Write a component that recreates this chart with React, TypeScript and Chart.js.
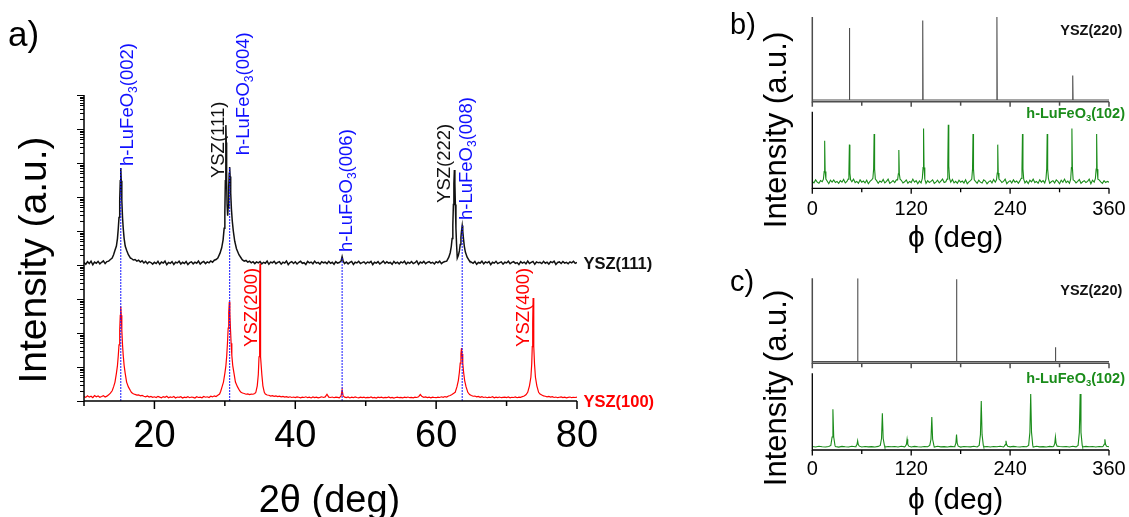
import React, { useEffect, useRef } from "react";
import { Chart, registerables } from "chart.js";

Chart.register(...registerables);

const FONT_FAMILY = "'Liberation Sans', Arial, 'DejaVu Sans', sans-serif";
const N = null;

// ---------------- Panel a : 2theta scans ----------------
const A_GRID_START = 10;
const A_GRID_STEP = 0.25;
// YSZ(100) substrate scan, background sampled every 0.25 deg (null = covered by a peak list)
const A_RED_BASE = [
  1.35,1.28,1.42,1.3,1.38,1.25,1.45,1.33,1.4,1.29,1.36,1.44,1.31,1.39,1.52,1.7,N,N,N,N,
  N,N,N,N,N,N,N,1.78,1.64,1.56,1.49,1.52,1.42,1.46,1.38,1.33,1.41,1.31,1.36,1.28,
  1.33,1.26,1.37,1.3,1.24,1.35,1.29,1.38,1.25,1.32,1.27,1.36,1.23,1.31,1.28,1.34,1.22,1.3,1.26,1.33,
  1.25,1.31,1.28,1.22,1.34,1.27,1.3,1.24,1.36,1.29,1.33,1.27,1.38,1.32,1.42,1.36,1.48,1.6,N,N,
  N,N,N,N,N,N,N,N,N,1.85,1.72,1.66,1.58,1.62,1.55,1.6,1.58,1.66,N,N,
  N,N,N,1.6,1.5,1.48,1.4,1.44,1.37,1.41,1.35,1.39,1.32,1.36,1.3,1.34,1.28,1.33,1.27,1.31,
  1.26,1.32,1.29,1.24,1.3,1.27,1.33,1.25,1.29,1.23,1.31,1.26,1.3,1.24,1.28,1.33,1.27,1.32,1.58,1.3,
  1.27,1.31,1.25,1.3,1.28,1.24,N,N,1.3,1.26,1.31,1.23,1.29,1.25,1.32,1.27,1.24,1.3,1.26,1.29,
  1.23,1.28,1.25,1.31,1.24,1.27,1.22,1.29,1.26,1.3,1.23,1.27,1.25,1.32,1.24,1.28,1.22,1.27,1.3,1.25,
  1.28,1.23,1.29,1.26,1.31,1.25,1.28,1.24,1.3,1.27,1.33,1.55,1.35,1.28,1.32,1.26,1.29,1.24,1.3,1.27,
  1.25,1.3,1.27,1.33,1.28,1.35,1.31,1.4,1.45,1.55,1.68,N,N,N,N,N,N,N,N,1.55,
  1.45,1.38,1.4,1.32,1.37,1.29,1.34,1.27,1.31,1.25,1.3,1.27,1.33,1.24,1.29,1.26,1.31,1.25,1.28,1.3,
  1.26,1.31,1.24,1.29,1.27,1.32,1.25,1.3,1.28,1.35,1.4,1.52,N,N,N,N,N,N,N,1.6,
  1.5,1.42,1.38,1.33,1.36,1.3,1.34,1.27,1.31,1.25,1.29,1.32,1.26,1.3,1.24,1.28,1.31,1.25,1.29,1.27,
  1.3,
];
// YSZ(111) substrate scan background (before the vertical offset)
const A_BLACK_BASE = [
  1.18,1.05,1.25,1.1,1.3,1.02,1.22,1.12,1.28,1.08,1.2,1.32,1.1,1.26,1.3,1.45,N,N,N,N,
  N,N,N,N,N,N,N,1.55,1.4,1.45,1.3,1.38,1.22,1.33,1.15,1.28,1.1,1.24,1.18,1.06,
  1.2,1.1,1.28,1.05,1.22,1.14,1.3,1.02,1.19,1.12,1.25,1.04,1.21,1.15,1.29,1.07,1.2,1.11,1.26,1.03,
  1.17,1.24,1.08,1.21,1.13,1.3,1.06,1.19,1.27,1.1,1.23,1.16,1.32,1.2,1.38,1.45,N,N,N,N,
  N,N,N,N,N,N,N,N,N,N,1.42,1.3,1.36,1.22,1.29,1.16,1.25,1.1,1.23,1.15,
  1.27,1.08,1.2,1.13,1.3,1.05,1.22,1.16,1.28,1.09,1.19,1.25,1.06,1.21,1.14,1.31,1.03,1.18,1.26,1.11,
  1.24,1.07,1.2,1.29,1.12,1.17,1.04,1.27,1.15,1.22,1.09,1.3,1.13,1.19,1.06,1.25,1.16,1.21,1.1,1.28,
  1.12,1.2,1.05,1.26,1.14,1.18,N,N,1.1,1.23,1.08,1.19,1.27,1.04,1.21,1.15,1.29,1.11,1.17,1.24,
  1.09,1.22,1.16,1.28,1.03,1.2,1.13,1.25,1.07,1.18,1.3,1.11,1.24,1.14,1.19,1.05,1.27,1.12,1.21,1.08,
  1.23,1.15,1.29,1.06,1.2,1.12,1.26,1.1,1.17,1.31,1.04,1.22,1.14,1.28,1.09,1.19,1.25,1.13,1.2,1.07,
  1.24,1.16,1.3,1.1,1.21,1.26,N,N,N,N,N,N,N,N,N,N,N,N,N,1.3,
  1.22,1.12,1.27,1.05,1.19,1.14,1.3,1.08,1.23,1.16,1.26,1.02,1.2,1.13,1.28,1.1,1.17,1.24,1.06,1.21,
  1.15,1.29,1.09,1.2,1.25,1.12,1.18,1.03,1.26,1.14,1.22,1.08,1.3,1.11,1.19,1.27,1.05,1.23,1.16,1.2,
  1.1,1.28,1.13,1.21,1.07,1.25,1.17,1.3,1.04,1.19,1.23,1.11,1.27,1.14,1.2,1.09,1.24,1.16,1.29,1.12,
  1.18,
];
// peaks: [2theta, intensity]
const A_RED_PEAKS = [
  [[14.0,2.0],[14.2,2.6],[14.4,3.6],[14.6,6.5],[14.75,11],[14.87,22],[14.97,45],[15.07,120],[15.15,330],[15.22,600],[15.29,330],[15.37,120],[15.47,45],[15.57,22],[15.7,11],[15.85,6.5],[16.05,3.6],[16.3,2.6],[16.6,2.0]],
  [[29.4,1.9],[29.6,2.6],[29.8,3.6],[30.0,6.5],[30.15,11],[30.27,22],[30.37,50],[30.47,140],[30.55,400],[30.63,830],[30.71,400],[30.79,140],[30.89,50],[30.99,22],[31.12,11],[31.3,6.5],[31.5,3.6],[31.8,2.6],[32.1,2.0]],
  [[34.4,1.8],[34.6,2.8],[34.75,6],[34.85,20],[34.92,150],[34.96,2500],[34.99,11000],[35.02,2500],[35.06,150],[35.13,20],[35.25,6],[35.4,2.8],[35.6,1.8]],
  [[46.5,1.4],[46.65,2.1],[46.8,1.4]],
  [[62.7,1.8],[62.95,2.6],[63.15,4],[63.3,7],[63.42,13],[63.52,24],[63.6,36],[63.68,24],[63.78,13],[63.9,7],[64.05,4],[64.25,2.6],[64.5,1.8]],
  [[73.0,1.8],[73.25,2.8],[73.45,5],[73.57,12],[73.65,40],[73.71,200],[73.77,1070],[73.83,200],[73.89,40],[73.97,12],[74.1,5],[74.3,2.8],[74.55,1.8]],
];
const A_BLACK_PEAKS = [
  [[14.0,1.6],[14.2,2.0],[14.4,2.7],[14.6,3.6],[14.75,6],[14.87,12],[14.97,25],[15.07,80],[15.15,300],[15.22,710],[15.29,300],[15.37,80],[15.47,25],[15.57,12],[15.7,6],[15.85,3.6],[16.05,2.7],[16.3,2.0],[16.6,1.6]],
  [[29.0,1.6],[29.3,2.2],[29.55,3.2],[29.75,5.5],[29.9,12],[30.0,35],[30.07,300],[30.12,4000],[30.16,13000],[30.2,4000],[30.25,300],[30.32,60],[30.4,28],[30.47,50],[30.55,200],[30.62,500],[30.68,760],[30.75,400],[30.83,130],[30.93,45],[31.05,20],[31.2,10],[31.4,5],[31.65,3],[32.0,2],[32.4,1.5]],
  [[46.5,1.3],[46.65,1.75],[46.8,1.3]],
  [[61.5,1.3],[61.8,1.7],[62.0,2.3],[62.15,3.5],[62.27,6],[62.37,15],[62.45,60],[62.52,250],[62.59,620],[62.66,250],[62.73,60],[62.81,12],[62.9,4],[63.0,1.6],[63.15,1.9],[63.3,2.6],[63.42,4],[63.52,6.5],[63.6,10],[63.7,14.4],[63.78,10],[63.88,6],[64.0,3.5],[64.15,2.4],[64.4,1.7],[64.7,1.35]],
];
const A_BLACK_OFFSET = 1e4;
// h-LuFeO3 (00l) drop lines: position and height (black-scan units, before the offset)
const A_DROP_ANGLES = [15.22, 30.68, 46.65, 63.7];
const A_DROP_TOPS = [710, 760, 1.75, 14.4];
const A_X_TICKS = [10, 20, 30, 40, 50, 60, 70, 80];
const A_X_LABELS = [20, 40, 60, 80];
const A_PEAK_TEXTS = ["h-LuFeO_3(002)", "YSZ(111)", "h-LuFeO_3(004)", "h-LuFeO_3(006)", "YSZ(222)", "h-LuFeO_3(008)", "YSZ(200)", "YSZ(400)"];
const A_PEAK_ANGLES = [15.22, 30.16, 30.68, 46.65, 62.59, 63.7, 34.99, 73.77];
const A_PEAK_START = [8.2e6, 3.6e6, 1.7e7, 2.4e4, 6.7e5, 2.1e5, 39, 39];
const A_SERIES_TEXTS = ["YSZ(111)", "YSZ(100)"];
const A_SERIES_LEVELS = [1.15e4, 1];

// ---------------- Panels b, c : phi scans ----------------
const PHI_TICKS = [0, 60, 120, 180, 240, 300, 360];
const PHI_LABELS = [0, 120, 240, 360];
const B_YSZ = [[0,2],[44.6,2],[45,87],[45.4,2],[133.6,2],[134,96],[134.4,2],[223.6,2],[224,100],[224.4,2],[315.6,2],[316,31],[316.4,2],[360,2]];
const B_GREEN_STEP = 2;
const B_GREEN_BASE = [
  9,7,11,8,6.5,10,8.5,12,7,9.5,6,10.5,8,11,7.5,9,6.5,10,
  8,11.5,7,9,6,10,8.5,12,7.5,9,6.5,11,8,9.5,7,10.5,6,9,
  11,7.5,8.5,10,6.5,9.5,8,11.5,7,9,12,6.5,8,10,7.5,11,6,9,
  10.5,7,8.5,11,6.5,9,7.5,12,8,10,6,9.5,7,11,8.5,6.5,10,7.5,
  9,11,6.5,8,10.5,7,9.5,12,7.5,8.5,6,10,8,11.5,7,9,6.5,10.5,
  8,9.5,7,11,6,8.5,10,7.5,12,9,6.5,10.5,8,7,11,9.5,6,8.5,
  10,7,11.5,8,9,6.5,10.5,7.5,9,12,6,8.5,10,7,11,8,9.5,6.5,
  10,8,11,7,9.5,6,10.5,8.5,12,7.5,9,6.5,11,8,10,7,9.5,11.5,
  6.5,8.5,10,7,11,9,6,10.5,8,12,7.5,9.5,6.5,11,8,10,7,9,
  11.5,6.5,8.5,10,7.5,9,12,6,10.5,8,9.5,7,11,8.5,6.5,10,7.5,9,
  8,
];
const B_GREEN_PEAKS = [
  [[13.5,12],[14.4,22],[15,62],[15.6,22],[16.5,12]],
  [[43.5,12],[44.4,20],[45,57],[45.6,20],[46.5,11]],
  [[73.5,13],[74.4,25],[75,71],[75.6,25],[76.5,12]],
  [[103.5,11],[104.4,19],[105,50],[105.6,19],[106.5,12]],
  [[133.5,13],[134.4,27],[135,78],[135.6,27],[136.5,12]],
  [[163.5,12],[164.4,29],[165,83],[165.6,29],[166.5,13]],
  [[193.5,12],[194.4,25],[195,71],[195.6,25],[196.5,11]],
  [[223.5,11],[224.4,20],[225,57],[225.6,20],[226.5,12]],
  [[253.5,13],[254.4,25],[255,71],[255.6,25],[256.5,12]],
  [[283.5,12],[284.4,25],[285,71],[285.6,25],[286.5,13]],
  [[313.5,12],[314.4,27],[315,78],[315.6,27],[316.5,11]],
  [[343.5,13],[344.4,25],[345,71],[345.6,25],[346.5,12]],
];
const C_YSZ = [[0,2],[54.6,2],[55,100],[55.4,2],[174.6,2],[175,99],[175.4,2],[294.6,2],[295,19],[295.4,2],[360,2]];
const C_GREEN_STEP = 4;
const C_GREEN_BASE = [
  4.5,4,4.8,4.2,3.9,4.6,4.1,4.4,3.8,4.7,4.3,4,4.9,4.2,4.5,3.9,4.6,4.1,
  4.4,4,4.7,4.3,3.8,4.6,4.2,4.5,4,4.8,4.1,4.4,3.9,4.7,4.3,4,4.6,4.2,
  4.5,3.9,4.8,4.1,4.4,4,4.7,4.2,4.5,3.8,4.6,4.3,4.1,4.9,4,4.4,4.2,4.6,
  4,4.5,4.2,4.8,3.9,4.4,4.1,4.7,4.3,4,4.6,4.2,4.5,3.9,4.8,4.1,4.4,4,
  4.7,4.3,4,4.6,4.2,4.5,3.9,4.8,4.1,4.4,4,4.7,4.3,4.5,3.9,4.6,4.2,4.4,
  4.3,
];
const C_GREEN_PEAKS = [
  [[22.5,6],[24,17],[25,53],[26,17],[27.5,6]],
  [[53,5],[54.2,7],[55,12],[55.8,7],[57,5]],
  [[82.5,6],[84,15],[85,48],[86,15],[87.5,6]],
  [[113,5],[114.2,7.5],[115,14],[115.8,7.5],[117,5]],
  [[142.5,6],[144,14],[145,43],[146,14],[147.5,6]],
  [[173,5],[174.2,9],[175,20],[175.8,9],[177,5]],
  [[202.5,6],[204,20],[205,64],[206,20],[207.5,6]],
  [[233,5],[234.2,7],[235,12],[235.8,7],[237,5]],
  [[262.5,6],[264,23],[265,73],[266,23],[267.5,6]],
  [[293,5],[294.2,8.5],[295,17],[295.8,8.5],[297,5]],
  [[322.5,6],[324,23],[325,73],[326,23],[327.5,6]],
  [[353,5],[354.2,7.5],[355,14],[355.8,7.5],[357,5]],
];

// ---------------- styles ----------------
const BLACK = "#111111";
const RED = "#ff0000";
const BLUE = "#1010ff";
const GREEN = "#1a8c1a";
const GRAY = "#4d4d4d";
const A_PEAK_STYLE = [
  { dx: 12, color: BLUE }, { dx: -2.2, color: BLACK }, { dx: 19, color: BLUE }, { dx: 10, color: BLUE },
  { dx: -4.4, color: BLACK }, { dx: 10.2, color: BLUE }, { dx: -3, color: RED }, { dx: -4, color: RED },
];

type Pt = { x: number; y: number };

function buildTrace(start: number, step: number, base: (number | null)[], peaks: number[][][], factor = 1): Pt[] {
  const ranges = peaks.map((p) => [p[0][0], p[p.length - 1][0]]);
  const pts: Pt[] = [];
  base.forEach((v, i) => {
    if (v === null) return;
    const x = Math.round((start + i * step) * 1000) / 1000;
    if (ranges.some(([a, b]) => x >= a && x <= b)) return;
    pts.push({ x, y: v * factor });
  });
  peaks.forEach((p) => p.forEach(([x, y]) => pts.push({ x, y: y * factor })));
  pts.sort((p, q) => p.x - q.x);
  return pts;
}

function fontStr(size: number, bold = false) {
  return `${bold ? "bold " : ""}${size}px ${FONT_FAMILY}`;
}

function parseRich(text: string) {
  const segs: { t: string; sub: boolean }[] = [];
  let cur = "";
  for (let i = 0; i < text.length; i++) {
    if (text[i] === "_" && i + 1 < text.length) {
      if (cur) segs.push({ t: cur, sub: false });
      segs.push({ t: text[i + 1], sub: true });
      cur = "";
      i++;
    } else cur += text[i];
  }
  if (cur) segs.push({ t: cur, sub: false });
  return segs;
}

function drawRich(
  ctx: CanvasRenderingContext2D, text: string, x: number, y: number,
  o: { size: number; bold?: boolean; color: string; rotate?: boolean; align?: "left" | "center" | "right" }
) {
  const segs = parseRich(text);
  ctx.save();
  ctx.translate(x, y);
  if (o.rotate) ctx.rotate(-Math.PI / 2);
  let w = 0;
  for (const s of segs) {
    ctx.font = fontStr(s.sub ? o.size * 0.65 : o.size, o.bold);
    w += ctx.measureText(s.t).width;
  }
  let cx = o.align === "center" ? -w / 2 : o.align === "right" ? -w : 0;
  ctx.fillStyle = o.color;
  ctx.textBaseline = "alphabetic";
  ctx.textAlign = "left";
  for (const s of segs) {
    ctx.font = fontStr(s.sub ? o.size * 0.65 : o.size, o.bold);
    ctx.fillText(s.t, cx, s.sub ? o.size * 0.22 : 0);
    cx += ctx.measureText(s.t).width;
  }
  ctx.restore();
}

function line(ctx: CanvasRenderingContext2D, x1: number, y1: number, x2: number, y2: number) {
  ctx.beginPath();
  ctx.moveTo(x1, y1);
  ctx.lineTo(x2, y2);
  ctx.stroke();
}

const panelAPlugin = {
  id: "panelA",
  afterDraw(chart: any) {
    const { ctx, chartArea: ca, scales } = chart;
    const x = scales.x, y = scales.y;
    ctx.save();
    ctx.strokeStyle = "#000";
    ctx.lineWidth = 1.5;
    ctx.beginPath();
    ctx.moveTo(ca.left, ca.top);
    ctx.lineTo(ca.left, ca.bottom);
    ctx.lineTo(ca.right, ca.bottom);
    ctx.stroke();
    // log ticks on the left axis
    ctx.lineWidth = 1;
    for (let e = 0; e <= 9; e++) {
      for (let m = 1; m <= 9; m++) {
        const v = m * Math.pow(10, e);
        if (v > y.max * 1.0001) break;
        const py = Math.round(y.getPixelForValue(v)) + 0.5;
        line(ctx, ca.left - (m === 1 ? 7 : 4), py, ca.left, py);
      }
    }
    ctx.lineWidth = 1.5;
    for (const t of A_X_TICKS) {
      const px = x.getPixelForValue(t);
      line(ctx, px, ca.bottom, px, ca.bottom + (A_X_LABELS.includes(t) ? 8 : 5));
    }
    ctx.fillStyle = "#000";
    ctx.font = fontStr(38);
    ctx.textAlign = "center";
    ctx.textBaseline = "alphabetic";
    for (const t of A_X_LABELS) ctx.fillText(String(t), x.getPixelForValue(t), ca.bottom + 46);
    drawRich(ctx, "2θ (deg)", (ca.left + ca.right) / 2 - 1, ca.bottom + 110.5, { size: 38, color: "#000", align: "center" });
    drawRich(ctx, "Intensity (a.u.)", 46, 260, { size: 39, color: "#000", rotate: true, align: "center" });
    drawRich(ctx, "a)", 8, 45.5, { size: 35, color: "#000" });
    A_PEAK_TEXTS.forEach((t, i) => {
      const px = x.getPixelForValue(A_PEAK_ANGLES[i]) + A_PEAK_STYLE[i].dx;
      const py = y.getPixelForValue(A_PEAK_START[i]);
      drawRich(ctx, t, px, py, { size: 18.5, color: A_PEAK_STYLE[i].color, rotate: true });
    });
    A_SERIES_TEXTS.forEach((t, i) => {
      const py = y.getPixelForValue(A_SERIES_LEVELS[i]) + 6;
      drawRich(ctx, t, ca.right + 6.5, py, { size: 16.5, bold: true, color: i === 0 ? BLACK : RED });
    });
    ctx.restore();
  },
};

function configA() {
  const red = buildTrace(A_GRID_START, A_GRID_STEP, A_RED_BASE, A_RED_PEAKS);
  const black = buildTrace(A_GRID_START, A_GRID_STEP, A_BLACK_BASE, A_BLACK_PEAKS, A_BLACK_OFFSET);
  const drops = A_DROP_ANGLES.map((a, i) => ({
    data: [{ x: a, y: 1 }, { x: a, y: A_DROP_TOPS[i] * A_BLACK_OFFSET }],
    borderColor: "rgba(20,20,255,0.9)",
    borderWidth: 1.1,
    borderDash: [2, 1],
    pointRadius: 0,
  }));
  return {
    type: "line",
    data: {
      datasets: [
        ...drops,
        { data: black, borderColor: BLACK, borderWidth: 1.5, pointRadius: 0 },
        { data: red, borderColor: RED, borderWidth: 1.2, pointRadius: 0 },
      ],
    },
    options: {
      animation: false,
      responsive: false,
      events: [],
      layout: { padding: { left: 84, top: 95, right: 143, bottom: 116 } },
      elements: { line: { tension: 0 } },
      scales: {
        x: { type: "linear", min: 10, max: 80, display: false },
        y: { type: "logarithmic", min: 1, max: 1e9, display: false },
      },
      plugins: { legend: { display: false }, tooltip: { enabled: false } },
    },
    plugins: [panelAPlugin],
  };
}

type PhiParams = {
  letter: string; letterY: number; yTitleY: number; tickDy: number; titleDy: number;
  yszLabelY: number; greenLabelY: number;
  padding: { left: number; right: number; top: number; bottom: number };
  topMin: number; botMax: number;
};

const B_PARAMS: PhiParams = {
  letter: "b)", letterY: 34.4, yTitleY: 130, tickDy: 26.7, titleDy: 58.7, yszLabelY: 35, greenLabelY: 118,
  padding: { left: 92.3, right: 20, top: 17, bottom: 71.7 }, topMin: -102.2, botMax: 223.6,
};
const C_PARAMS: PhiParams = {
  letter: "c)", letterY: 31, yTitleY: 128, tickDy: 25, titleDy: 58.5, yszLabelY: 35, greenLabelY: 123,
  padding: { left: 92.3, right: 20, top: 18.3, bottom: 67 }, topMin: -102, botMax: 223.9,
};

function phiPlugin(p: PhiParams) {
  return {
    id: "phi" + p.letter[0],
    afterDraw(chart: any) {
      const { ctx, chartArea: ca, scales } = chart;
      const x = scales.x, yt = scales.yTop, yb = scales.yBot;
      const topAxis = yt.getPixelForValue(0), topTop = yt.getPixelForValue(100);
      const botAxis = yb.getPixelForValue(0), botTop = yb.getPixelForValue(100);
      ctx.save();
      ctx.lineWidth = 1.5;
      // upper (YSZ) frame
      ctx.strokeStyle = GRAY;
      ctx.beginPath();
      ctx.moveTo(ca.left, topTop);
      ctx.lineTo(ca.left, topAxis);
      ctx.lineTo(ca.right, topAxis);
      ctx.stroke();
      for (const t of PHI_TICKS) {
        const px = x.getPixelForValue(t);
        line(ctx, px, topAxis, px, topAxis + (PHI_LABELS.includes(t) ? 5 : 4));
      }
      // lower (film) frame
      ctx.lineWidth = 1.3;
      ctx.strokeStyle = "#000";
      ctx.beginPath();
      ctx.moveTo(ca.left, botTop);
      ctx.lineTo(ca.left, botAxis);
      ctx.lineTo(ca.right, botAxis);
      ctx.stroke();
      for (const t of PHI_TICKS) {
        const px = x.getPixelForValue(t);
        line(ctx, px, botAxis, px, botAxis + (PHI_LABELS.includes(t) ? 5.5 : 4));
      }
      ctx.fillStyle = "#000";
      ctx.font = fontStr(20);
      ctx.textAlign = "center";
      ctx.textBaseline = "alphabetic";
      for (const t of PHI_LABELS) ctx.fillText(String(t), x.getPixelForValue(t), botAxis + p.tickDy);
      drawRich(ctx, "ϕ (deg)", (ca.left + ca.right) / 2 - 5, botAxis + p.titleDy, { size: 30, color: "#000", align: "center" });
      drawRich(ctx, "Intensity (a.u.)", 65.5, p.yTitleY, { size: 31, color: "#000", rotate: true, align: "center" });
      drawRich(ctx, p.letter, 10, p.letterY, { size: 29, color: "#000" });
      drawRich(ctx, "YSZ(220)", ca.right + 13.3, p.yszLabelY, { size: 14.5, bold: true, color: BLACK, align: "right" });
      drawRich(ctx, "h-LuFeO_3(102)", ca.right + 16, p.greenLabelY, { size: 14.5, bold: true, color: GREEN, align: "right" });
      ctx.restore();
    },
  };
}

function configPhi(p: PhiParams, ysz: number[][], greenStep: number, greenBase: number[], greenPeaks: number[][][]) {
  const top = ysz.map(([x, y]) => ({ x, y }));
  const green = buildTrace(0, greenStep, greenBase, greenPeaks);
  return {
    type: "line",
    data: {
      datasets: [
        { data: top, yAxisID: "yTop", borderColor: GRAY, borderWidth: 1.1, pointRadius: 0 },
        { data: green, yAxisID: "yBot", borderColor: GREEN, borderWidth: 1.1, pointRadius: 0 },
      ],
    },
    options: {
      animation: false,
      responsive: false,
      events: [],
      layout: { padding: p.padding },
      elements: { line: { tension: 0 } },
      scales: {
        x: { type: "linear", min: 0, max: 360, display: false },
        yTop: { axis: "y", type: "linear", min: p.topMin, max: 100, display: false },
        yBot: { axis: "y", type: "linear", min: 0, max: p.botMax, display: false },
      },
      plugins: { legend: { display: false }, tooltip: { enabled: false } },
    },
    plugins: [phiPlugin(p)],
  };
}

export default function App() {
  const aRef = useRef<HTMLCanvasElement>(null);
  const bRef = useRef<HTMLCanvasElement>(null);
  const cRef = useRef<HTMLCanvasElement>(null);
  useEffect(() => {
    const charts = [
      new Chart(aRef.current as HTMLCanvasElement, configA() as any),
      new Chart(bRef.current as HTMLCanvasElement, configPhi(B_PARAMS, B_YSZ, B_GREEN_STEP, B_GREEN_BASE, B_GREEN_PEAKS) as any),
      new Chart(cRef.current as HTMLCanvasElement, configPhi(C_PARAMS, C_YSZ, C_GREEN_STEP, C_GREEN_BASE, C_GREEN_PEAKS) as any),
    ];
    return () => charts.forEach((c) => c.destroy());
  }, []);
  return (
    <div style={{ position: "fixed", left: 0, top: 0, width: 1129, height: 517, background: "#fff", overflow: "hidden" }}>
      <canvas ref={aRef} width={720} height={517} style={{ position: "absolute", left: 0, top: 0, width: 720, height: 517 }} />
      <canvas ref={bRef} width={409} height={260} style={{ position: "absolute", left: 720, top: 0, width: 409, height: 260 }} />
      <canvas ref={cRef} width={409} height={257} style={{ position: "absolute", left: 720, top: 260, width: 409, height: 257 }} />
    </div>
  );
}
